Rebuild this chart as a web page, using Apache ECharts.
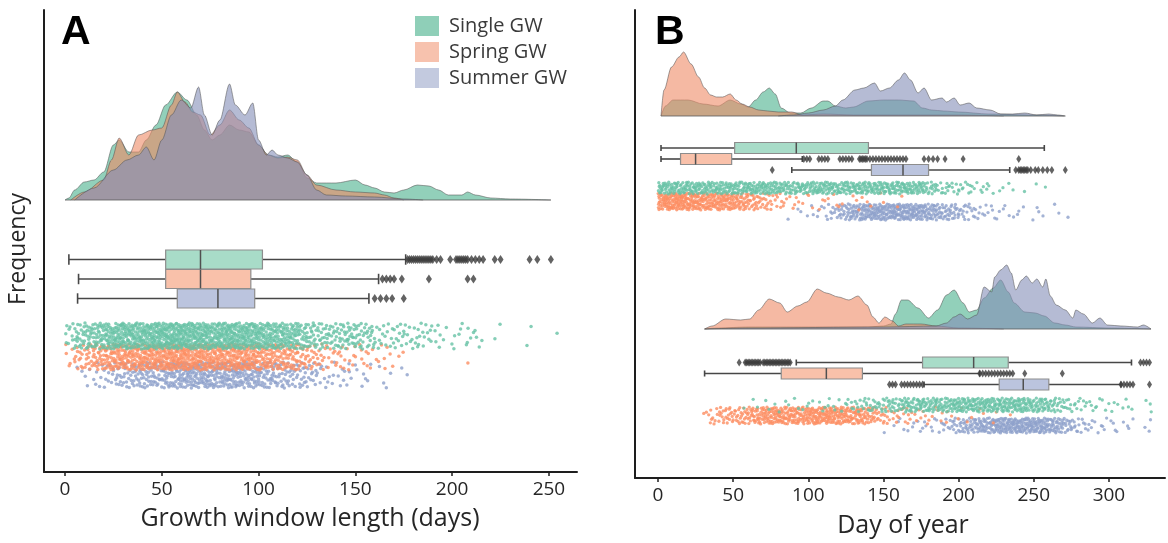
<!DOCTYPE html>
<html><head><meta charset="utf-8">
<script src="https://cdn.jsdelivr.net/npm/echarts@6/dist/echarts.min.js"></script>
<style>html,body{margin:0;padding:0;background:#fff}#c{width:1168px;height:543px}</style>
</head><body><div id="c"></div>
<script>
// ---------------- DATA ----------------
const groups = ['Single GW', 'Spring GW', 'Summer GW'];
const xTicksA = [0, 50, 100, 150, 200, 250];
const xTicksB = [0, 50, 100, 150, 200, 250, 300];

// Panel A: growth window length (days) — density curves [day, relative density]
const densA_single = [[0,0],[2,2],[5,10],[10,18],[15,20],[20,28],[25,55],[28,60],[33,48],[38,48],[42,60],[47,75],[52,95],[58,108],[63,100],[68,85],[72,70],[76,60],[80,65],[85,75],[90,70],[95,68],[100,55],[105,45],[110,43],[115,45],[120,38],[125,22],[130,17],[140,17],[150,20],[155,15],[160,12],[165,8],[170,7],[175,10],[182,15],[188,14],[193,10],[198,5],[205,5],[208,8],[212,5],[220,2],[230,1],[251,0]];
const densA_spring = [[3,0],[10,8],[20,20],[24,40],[28,62],[33,45],[38,65],[45,70],[50,72],[55,95],[58,108],[62,98],[66,88],[70,85],[75,65],[80,75],[85,90],[90,80],[95,72],[100,55],[105,45],[110,42],[115,43],[120,40],[125,25],[130,15],[140,10],[150,8],[160,7],[165,5],[170,2],[175,0]];
const densA_summer = [[5,0],[15,12],[25,30],[32,40],[38,45],[42,53],[46,40],[50,60],[55,85],[60,100],[65,92],[69,113],[72,85],[76,65],[80,80],[85,116],[88,95],[93,85],[97,97],[100,60],[104,45],[107,50],[110,45],[115,42],[120,38],[125,25],[130,10],[135,5],[145,4],[160,3],[175,1],[185,0]];
// box stats [whiskerLow, q1, median, q3, whiskerHigh]
const boxA_single = [2, 52, 70, 102, 176];
const boxA_spring = [7, 52, 70, 96, 162];
const boxA_summer = [6.5, 58, 79, 98, 157];
const outA_single = [177,178,179,180,181,182,183,184,185,186,187,188,189,190,192,194,199,202,203,204,205,206,207,208,210,212,214,216,222,225,240,244,251];
const outA_spring = [164,166,168,170,174,188,208,211];
const outA_summer = [160,163,166,169,175];
// observation counts per 5-day bin, starting at day 0
const dotsA_single = [10,20,24,28,34,40,40,40,42,44,46,48,46,44,42,42,44,44,42,40,38,36,34,32,26,20,18,18,18,19,18,15,8,8,10,8,9,8,5,3,4,5,4,1,2,0,0,1,1,0,1];
const dotsA_spring = [6,12,18,24,28,34,34,34,36,38,40,42,40,38,38,36,36,38,36,34,28,26,26,23,18,13,10,8,8,6,5,5,4,4,2,0,0,0,0,0,0,1];
const dotsA_summer = [0,2,4,6,10,14,18,20,22,22,26,30,32,32,32,30,32,32,30,28,24,21,19,16,14,12,7,6,5,5,3,3,2,2,1,1];

// Panel B top: start day of year
const densBs_single = [[2,0],[5,10],[10,16],[20,16],[30,12],[40,10],[48,16],[55,12],[60,9],[65,16],[70,24],[74,28],[78,22],[82,8],[88,3],[95,3],[102,8],[110,15],[113,15],[118,10],[125,8],[130,9],[140,15],[150,16],[160,16],[170,15],[176,8],[182,6],[190,5],[200,4],[220,2],[250,1],[270,0]];
const densBs_spring = [[2,0],[4,26],[9,49],[14,59],[17,64],[22,52],[27,39],[31,28],[35,21],[39,19],[43,19],[48,22],[52,16],[56,12],[61,9],[67,6],[73,5],[80,4],[89,4],[96,1],[110,2],[130,1],[160,1],[200,1],[230,0]];
const densBs_summer = [[80,0],[90,1],[100,3],[110,6],[118,10],[123,16],[131,26],[137,28],[144,33],[148,25],[154,28],[160,36],[164,43],[168,36],[173,23],[177,28],[182,16],[189,18],[192,14],[197,18],[201,11],[207,13],[212,8],[221,6],[228,2],[236,2],[244,3],[252,1],[260,2],[266,1],[271,0]];
const boxBs_single = [2, 51, 92, 140, 257];
const boxBs_spring = [2, 15, 25, 49, 96];
const boxBs_summer = [89, 142, 163, 180, 234];
const outBs_single = [];
const outBs_spring = [97,99,101,107,109,111,113,121,123,125,127,129,134,135,136,137,138,139,141,143,145,147,149,151,153,155,157,159,161,163,165,177,180,183,186,191,203,240];
const outBs_summer = [76,238,240,241,242,243,244,245,246,248,251,253,256,259,262,271];
const dotsBs_single = [16,16,16,16,16,16,16,15,15,16,16,15,16,16,17,16,14,14,14,14,15,16,16,15,15,15,16,16,16,16,16,16,16,16,15,13,10,7,6,6,5,5,3,4,2,2,1,1,1,0,1,1];
const dotsBs_spring = [26,28,30,30,28,26,24,24,24,24,21,18,15,12,9,7,5,3,3,2,2,2,2,2,2,1,2,2,1,1,1,1,1];
const dotsBs_summer = [0,0,0,0,0,0,0,0,0,0,0,0,0,0,0,0,0,1,1,2,2,3,5,7,12,17,19,22,24,24,24,26,26,26,24,22,19,17,14,12,9,7,6,4,3,3,2,2,2,1,2,1,1,1,1];

// Panel B bottom: end day of year
const densBe_single = [[31,0],[40,1],[60,2],[100,2],[140,2],[150,3],[155,5],[158,15],[162,29],[166,29],[173,21],[180,11],[186,19],[192,34],[197,39],[203,26],[207,17],[212,19],[217,31],[223,41],[228,49],[233,37],[237,26],[244,17],[251,16],[257,13],[264,6],[271,4],[278,2],[300,1],[328,0]];
const densBe_spring = [[31,0],[36,3],[45,10],[55,9],[61,10],[67,19],[74,30],[81,26],[86,17],[93,23],[99,27],[106,40],[112,36],[120,32],[127,29],[133,33],[139,24],[143,12],[147,6],[151,12],[156,8],[160,3],[165,5],[175,5],[185,3],[200,1],[230,0]];
const densBe_summer = [[31,0],[60,1],[150,2],[185,3],[192,6],[197,12],[201,15],[206,10],[212,14],[217,42],[222,37],[224,52],[228,59],[232,64],[235,56],[238,39],[242,49],[245,53],[249,46],[252,50],[256,42],[258,50],[261,33],[265,24],[271,19],[276,11],[278,19],[283,15],[289,6],[294,11],[299,4],[308,3],[319,2],[323,4],[328,0]];
const boxBe_single = [92, 176, 210, 233, 315];
const boxBe_spring = [31, 82, 112, 136, 214];
const boxBe_summer = [177, 227, 243, 260, 308];
const outBe_single = [54,58,59,60,61,62,63,64,65,66,67,68,70,71,72,73,74,75,76,77,78,79,80,81,82,83,84,85,86,87,88,321,323,325,327];
const outBe_spring = [214,216,218,220,222,224,226,228,230,232,234,236,244,269];
const outBe_summer = [154,156,158,162,164,166,168,170,172,174,176,308,310,312,314,316,327];
const dotsBe_single = [0,0,0,0,0,0,0,0,0,0,0,1,1,1,2,1,2,1,2,2,2,2,3,2,3,4,6,7,8,8,10,11,13,15,15,15,15,15,16,18,18,18,18,18,18,18,18,18,18,16,15,15,12,9,7,5,4,4,3,3,2,2,2,1,1,2];
const dotsBe_spring = [0,0,0,0,0,0,4,7,10,12,12,14,17,19,22,24,24,22,22,22,24,26,26,24,24,22,22,19,14,10,7,6,5,5,4,3,3,3,2,2,1,2,1,1,1,1,1];
const dotsBe_summer = [0,0,0,0,0,0,0,0,0,0,0,0,0,0,0,0,0,0,0,0,0,0,0,0,0,0,0,0,0,0,1,2,2,2,3,3,3,4,6,9,12,14,17,19,22,24,24,24,24,24,24,22,19,17,12,8,6,4,3,3,3,2,2,1,1,2];

// ---------------- STYLE / LAYOUT ----------------
const dotColor = ['#66C2A5', '#FC8D62', '#8DA0CB'];
const boxFill = ['#A8DCC8', '#F9C1AA', '#BBC4DE'];
const densFill = ['rgba(100,188,156,0.70)', 'rgba(238,138,102,0.60)', 'rgba(132,142,184,0.60)'];
const legendFill = ['#8FCFB8', '#F7C2AE', '#C3CADF'];
const FONT = '"Open Sans", "Noto Sans", sans-serif';
const BIN = 5;

const series = [];
let seedCounter = 0;

function halton(i, b) { let f = 1, r = 0; while (i > 0) { f /= b; r += f * (i % b); i = Math.floor(i / b); } return r; }

function addDensity(data, gi, base, k, name) {
  series.push({
    type: 'line', name: name, xAxisIndex: gi, yAxisIndex: gi, silent: true,
    data: data.map(p => [p[0], base - p[1]]),
    smooth: 0.3, smoothMonotone: 'x', showSymbol: false, symbol: 'none',
    lineStyle: { color: 'rgba(85,85,85,0.55)', width: 1 },
    areaStyle: { color: densFill[k], origin: base, opacity: 1 },
    z: 2 + k
  });
}
function addBaseline(sets, gi, base) {
  let lo = Infinity, hi = -Infinity;
  sets.forEach(s => { lo = Math.min(lo, s[0][0]); hi = Math.max(hi, s[s.length - 1][0]); });
  series.push({ type: 'line', xAxisIndex: gi, yAxisIndex: gi, silent: true, showSymbol: false, symbol: 'none',
    data: [[lo, base], [hi, base]], lineStyle: { color: 'rgba(90,90,90,0.8)', width: 1.2 }, z: 6 });
}
function addBox(stats, gi, cy, h, k) {
  series.push({
    type: 'custom', xAxisIndex: gi, yAxisIndex: gi, silent: true, z: 7,
    data: [stats], encode: { x: [0, 1, 2, 3, 4] },
    renderItem: function (params, api) {
      const px = i => api.coord([api.value(i), cy])[0];
      const yc = api.coord([0, cy])[1];
      const yt = api.coord([0, cy - h / 2])[1], yb = api.coord([0, cy + h / 2])[1];
      const capH = h * 0.55;
      const wl = { stroke: '#474747', lineWidth: 1.6 };
      return { type: 'group', children: [
        { type: 'line', shape: { x1: px(0), y1: yc, x2: px(1), y2: yc }, style: wl },
        { type: 'line', shape: { x1: px(3), y1: yc, x2: px(4), y2: yc }, style: wl },
        { type: 'line', shape: { x1: px(0), y1: yc - capH / 2, x2: px(0), y2: yc + capH / 2 }, style: wl },
        { type: 'line', shape: { x1: px(4), y1: yc - capH / 2, x2: px(4), y2: yc + capH / 2 }, style: wl },
        { type: 'rect', shape: { x: px(1), y: yt, width: px(3) - px(1), height: yb - yt },
          style: { fill: boxFill[k], stroke: '#8d8d8d', lineWidth: 1.2 } },
        { type: 'line', shape: { x1: px(2), y1: yt, x2: px(2), y2: yb }, style: { stroke: '#505050', lineWidth: 1.5 } }
      ]};
    }
  });
}
function addOutliers(vals, gi, cy, size) {
  if (!vals.length) return;
  series.push({ type: 'scatter', xAxisIndex: gi, yAxisIndex: gi, silent: true, z: 8,
    symbol: 'diamond', symbolSize: size, itemStyle: { color: '#3c3c3c' },
    data: vals.map(v => [v, cy]) });
}
// strip-plot jitter: each observation in a bin is spread inside the bin and the band
function addDots(counts, gi, yTop, yBot, k, z, size) {
  const pts = [];
  counts.forEach((c, b) => {
    for (let j = 0; j < c; j++) {
      seedCounter++;
      const n = seedCounter * 7 + 1013;
      const u = halton(n, 2);
      const v = halton(n, 3);
      pts.push([b * BIN + u * BIN, yTop + v * (yBot - yTop)]);
    }
  });
  series.push({ type: 'scatter', xAxisIndex: gi, yAxisIndex: gi, silent: true, z: z,
    symbol: 'circle', symbolSize: size, itemStyle: { color: dotColor[k] }, data: pts, large: false });
}

// ---- Panel A (grid 0) ----
addDensity(densA_single, 0, 200, 0, groups[0]);
addDensity(densA_spring, 0, 200, 1, groups[1]);
addDensity(densA_summer, 0, 200, 2, groups[2]);
addBaseline([densA_single, densA_spring, densA_summer], 0, 200);
addBox(boxA_single, 0, 259.5, 19, 0);
addBox(boxA_spring, 0, 279, 19, 1);
addBox(boxA_summer, 0, 298.5, 19, 2);
addOutliers(outA_single, 0, 259.5, [6, 9]);
addOutliers(outA_spring, 0, 279, [6, 9]);
addOutliers(outA_summer, 0, 298.5, [6, 9]);
addDots(dotsA_summer, 0, 362, 388, 2, 9, 3.5);
addDots(dotsA_spring, 0, 344, 370, 1, 10, 3.5);
addDots(dotsA_single, 0, 323, 349, 0, 11, 3.5);

// ---- Panel B (grid 1) top ----
addDensity(densBs_single, 1, 116, 0, 'B1');
addDensity(densBs_spring, 1, 116, 1, 'B2');
addDensity(densBs_summer, 1, 116, 2, 'B3');
addBaseline([densBs_single, densBs_spring, densBs_summer], 1, 116);
addBox(boxBs_single, 1, 148, 11, 0);
addBox(boxBs_spring, 1, 159, 11, 1);
addBox(boxBs_summer, 1, 170, 11, 2);
addOutliers(outBs_single, 1, 148, [5, 8]);
addOutliers(outBs_spring, 1, 159, [5, 8]);
addOutliers(outBs_summer, 1, 170, [5, 8]);
addDots(dotsBs_summer, 1, 204, 220, 2, 9, 3.3);
addDots(dotsBs_spring, 1, 193, 210, 1, 10, 3.3);
addDots(dotsBs_single, 1, 182, 194, 0, 11, 3.3);

// ---- Panel B bottom ----
addDensity(densBe_single, 1, 329, 0, 'B4');
addDensity(densBe_spring, 1, 329, 1, 'B5');
addDensity(densBe_summer, 1, 329, 2, 'B6');
addBaseline([densBe_single, densBe_spring, densBe_summer], 1, 329);
addBox(boxBe_single, 1, 362.5, 11, 0);
addBox(boxBe_spring, 1, 373.5, 11, 1);
addBox(boxBe_summer, 1, 384.5, 11, 2);
addOutliers(outBe_single, 1, 362.5, [5, 8]);
addOutliers(outBe_spring, 1, 373.5, [5, 8]);
addOutliers(outBe_summer, 1, 384.5, [5, 8]);
addDots(dotsBe_summer, 1, 418, 433, 2, 9, 3.3);
addDots(dotsBe_spring, 1, 407, 424, 1, 10, 3.3);
addDots(dotsBe_single, 1, 398, 412, 0, 11, 3.3);

const axisLineStyle = { color: '#1e1e1e', width: 2 };
function xAxisDef(gi, min, max, ticks) {
  return { gridIndex: gi, type: 'value', min: min, max: max,
    axisLine: { show: true, onZero: false, lineStyle: axisLineStyle },
    axisTick: { show: true, customValues: ticks, length: 4, lineStyle: { color: '#1e1e1e', width: 1.5 } },
    axisLabel: { customValues: ticks, fontSize: 19, color: '#262626', fontFamily: FONT, margin: 8 },
    splitLine: { show: false } };
}
function yAxisDef(gi, top, bottom, ticks) {
  return { gridIndex: gi, type: 'value', inverse: true, min: top, max: bottom,
    axisLine: { show: true, onZero: false, lineStyle: axisLineStyle },
    axisTick: { show: ticks.length > 0, customValues: ticks, length: 5, lineStyle: { color: '#1e1e1e', width: 1.5 } },
    axisLabel: { show: false }, splitLine: { show: false } };
}

const chart = echarts.init(document.getElementById('c'), null, { renderer: 'canvas' });
chart.setOption({
  animation: false,
  backgroundColor: '#ffffff',
  textStyle: { fontFamily: FONT },
  grid: [
    { left: 44, top: 10, width: 533, height: 462 },
    { left: 635, top: 10, width: 530, height: 468 }
  ],
  xAxis: [xAxisDef(0, -10.85, 264.5, xTicksA), xAxisDef(1, -15.3, 337.3, xTicksB)],
  yAxis: [yAxisDef(0, 10, 472, [279]), yAxisDef(1, 10, 478, [])],
  legend: {
    left: 415, top: 16, orient: 'vertical', itemWidth: 24, itemHeight: 20, itemGap: 6, padding: 0,
    icon: 'rect', selectedMode: false,
    textStyle: { fontSize: 20, color: '#3a3a3a', fontFamily: FONT, padding: [0, 0, 0, 5] },
    data: groups.map((g, i) => ({ name: g, icon: 'rect', itemStyle: { color: legendFill[i], borderWidth: 0 }, lineStyle: { width: 0, opacity: 0 } }))
  },
  graphic: [
    { type: 'text', x: 61, y: 33, style: { text: 'A', font: 'bold 41px "Liberation Sans", Arial, sans-serif', fill: '#000', verticalAlign: 'middle' } },
    { type: 'text', x: 655, y: 33, style: { text: 'B', font: 'bold 41px "Liberation Sans", Arial, sans-serif', fill: '#000', verticalAlign: 'middle' } },
    { type: 'text', x: 18, y: 249, rotation: Math.PI / 2, style: { text: 'Frequency', font: '23px ' + FONT, fill: '#262626', align: 'center', verticalAlign: 'middle' } },
    { type: 'text', x: 310, y: 519, style: { text: 'Growth window length (days)', font: '25px ' + FONT, fill: '#262626', align: 'center', verticalAlign: 'middle' } },
    { type: 'text', x: 903, y: 526, style: { text: 'Day of year', font: '25px ' + FONT, fill: '#262626', align: 'center', verticalAlign: 'middle' } }
  ],
  series: series
});
</script></body></html>
